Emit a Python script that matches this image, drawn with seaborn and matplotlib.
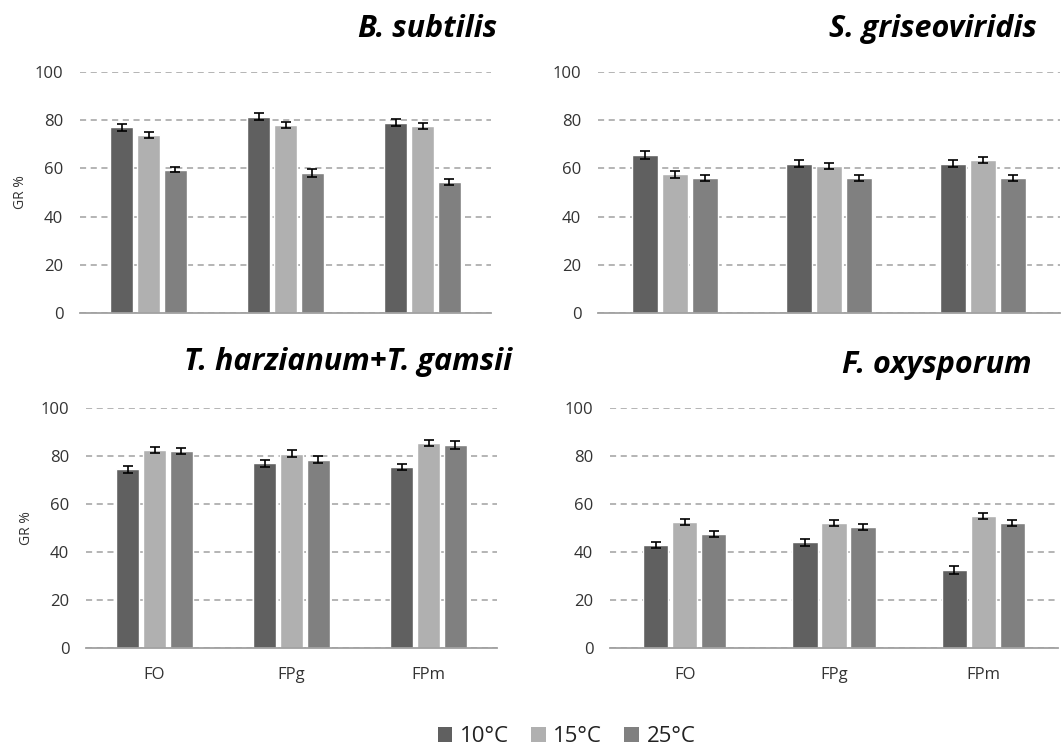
import numpy as np
import pandas as pd
import matplotlib
matplotlib.use("Agg")
import matplotlib.pyplot as plt
import seaborn as sns
from matplotlib.patches import Patch

categories = ["FO", "FPg", "FPm"]
temps = ["10°C", "15°C", "25°C"]
titles = ["B. subtilis", "S. griseoviridis", "T. harzianum+T. gamsii", "F. oxysporum"]

# values per panel: rows = temperature, cols = category
b_subtilis = [[77.0, 81.5, 79.0], [74.0, 78.0, 77.5], [59.5, 58.0, 54.5]]
s_griseo = [[65.5, 62.0, 62.0], [57.5, 61.0, 63.5], [56.0, 56.0, 56.0]]
t_harz = [[74.5, 77.0, 75.5], [82.5, 81.0, 85.5], [82.0, 78.5, 84.5]]
f_oxy = [[43.0, 44.0, 32.5], [52.5, 52.0, 55.0], [47.5, 50.5, 52.0]]

b_subtilis_err = [[1.5, 1.6, 1.3], [1.3, 1.4, 1.3], [1.2, 1.6, 1.3]]
s_griseo_err = [[1.6, 1.4, 1.3], [1.3, 1.4, 1.2], [1.3, 1.3, 1.3]]
t_harz_err = [[1.4, 1.5, 1.3], [1.2, 1.3, 1.3], [1.3, 1.4, 1.7]]
f_oxy_err = [[1.2, 1.4, 1.6], [1.3, 1.3, 1.2], [1.4, 1.3, 1.3]]

panel_values = [b_subtilis, s_griseo, t_harz, f_oxy]
panel_errors = [b_subtilis_err, s_griseo_err, t_harz_err, f_oxy_err]

colors = ["#606060", "#b0b0b0", "#808080"]

sns.set_theme(style="white")
plt.rcParams["font.family"] = ["Open Sans", "DejaVu Sans"]

W, H = 1063, 751
fig = plt.figure(figsize=(W / 100, H / 100), dpi=100)

# axes boxes in pixels: left, top, right, bottom
boxes_px = [
    (80, 72, 491, 313),
    (598, 72, 1060, 313),
    (86, 408, 497, 648),
    (610, 408, 1058, 648),
]
title_px = [(497, 29), (1037, 29), (512, 362), (1032, 365)]

for i, (vals, errs, title, box, tpos) in enumerate(
        zip(panel_values, panel_errors, titles, boxes_px, title_px)):
    l, t, r, b = box
    ax = fig.add_axes([l / W, 1 - b / H, (r - l) / W, (b - t) / H])
    rows = []
    for t_idx, tt in enumerate(temps):
        for c_idx, c in enumerate(categories):
            rows.append({"cat": c, "temp": tt, "val": vals[t_idx][c_idx]})
    df = pd.DataFrame(rows)
    sns.barplot(data=df, x="cat", y="val", hue="temp", order=categories,
                hue_order=temps, palette=colors, width=0.585, gap=0.13,
                errorbar=None, legend=False, ax=ax, saturation=1)
    bar_containers = list(ax.containers)
    for t_idx, cont in enumerate(bar_containers):
        xs = [p.get_x() + p.get_width() / 2 for p in cont.patches]
        hs = [p.get_height() for p in cont.patches]
        ax.errorbar(xs, hs, yerr=errs[t_idx], fmt="none", ecolor="black",
                    elinewidth=1.2, capsize=3.5, capthick=1.2)
    ax.set_xlim(-0.5, 2.5)
    ax.set_ylim(0, 100)
    ax.set_yticks([0, 20, 40, 60, 80, 100])
    ax.yaxis.grid(True, linestyle=(0, (4, 3)), color="#a0a0a0", linewidth=1.1)
    ax.set_axisbelow(True)
    for s in ["top", "right", "left"]:
        ax.spines[s].set_visible(False)
    ax.spines["bottom"].set_color("#a0a0a0")
    ax.spines["bottom"].set_linewidth(1.3)
    ax.tick_params(axis="y", length=0, labelsize=12, colors="#333333", pad=12)
    ax.tick_params(axis="x", length=0, labelsize=12, colors="#333333", pad=14)
    ax.set_xlabel("")
    if i % 2 == 0:
        ax.set_ylabel("GR %", fontsize=10, color="#333333", labelpad=5)
    else:
        ax.set_ylabel("")
    if i < 2:
        ax.set_xticklabels([])
    fig.text(tpos[0] / W, 1 - tpos[1] / H, title, ha="right", va="center",
             fontsize=22, fontweight="bold", fontstyle="italic", color="black")

handles = [Patch(facecolor=c, edgecolor="none") for c in colors]
fig.legend(handles, temps, loc="center", bbox_to_anchor=(0.533, 0.019), ncol=3,
           frameon=False, fontsize=16, handlelength=0.65, handleheight=0.65,
           handletextpad=0.35, columnspacing=1.0, labelcolor="#222222")

fig.savefig("out.png", dpi=100, facecolor="white")
